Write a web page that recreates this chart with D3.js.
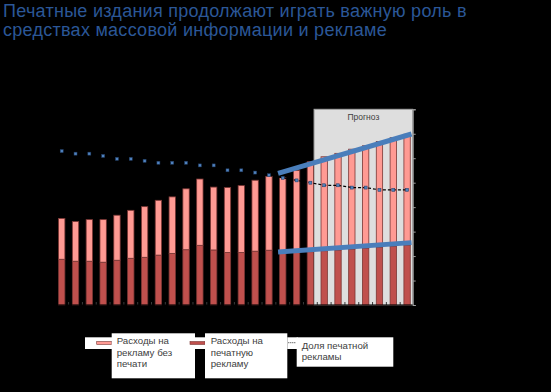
<!DOCTYPE html>
<html><head><meta charset="utf-8">
<script src="https://cdn.jsdelivr.net/npm/d3@7/dist/d3.min.js"></script>
<style>
html,body{margin:0;padding:0;background:#000;}
svg{display:block;font-family:"Liberation Sans",Arial,sans-serif;}
</style></head>
<body>
<svg id="chart" width="551" height="392"></svg>
<script>
// ---------- data ----------
const years = d3.range(1990, 2016).map(String);
const printSpend = [1.87,1.79,1.79,1.75,1.83,1.91,1.95,2.04,2.11,2.26,2.44,2.25,2.15,2.15,2.20,2.24,2.14,2.15,2.18,2.22,2.25,2.29,2.33,2.37,2.41,2.45];
const totalSpend = [3.54,3.41,3.49,3.49,3.67,3.87,4.02,4.28,4.42,4.75,5.15,4.82,4.80,4.88,5.10,5.26,5.20,5.50,5.86,6.06,6.20,6.37,6.51,6.68,6.84,6.98];
const nonPrintSpend = totalSpend.map((t,i)=>+(t-printSpend[i]).toFixed(2));
const printShare = [47.2,46.4,46.4,45.7,44.8,44.8,44.2,43.6,43.6,43.6,42.8,42.8,41.3,41.3,40.6,39.8,39.0,38.2,37.5,36.7,36.7,36.0,36.0,35.3,35.3,35.3];
const forecastStart = "2009";
const axisTicks = [0,1,2,3,4,5,6,7,8];
const trendTotal = [{pos:15.66, v:5.38},{pos:25.32, v:6.99}];
const trendPrint = [{pos:15.66, v:2.17},{pos:25.32, v:2.55}];
const titleLines = ["Печатные издания продолжают играть важную роль в","средствах массовой информации и рекламе"];
const legendItems = [
  {lines:["Расходы на","рекламу без","печати"], kind:"nonprint"},
  {lines:["Расходы на","печатную","рекламу"], kind:"print"},
  {lines:["Доля печатной","рекламы"], kind:"share"}
];
const forecastLabel = "Прогноз";

// ---------- layout ----------
const svg = d3.select("#chart");
const cLight = "#FF9A93", cDark = "#C0504D", cEdge = "#7a3634";
const x = d3.scaleBand().domain(years).range([54.8,414]).paddingInner(0.54).paddingOuter(0.27);
const y = d3.scaleLinear().domain([0,8]).range([305,109.3]);
const yShare = d3.scaleLinear().domain([0,60]).range([305,109.3]);
const xc = d3.scaleLinear().domain([0, years.length-1]).range([x(years[0])+x.bandwidth()/2, x(years[years.length-1])+x.bandwidth()/2]);
const axisX = 412.7;

// title
svg.append("g").selectAll("text").data(titleLines).join("text")
  .attr("x",3).attr("y",(d,i)=>16.5+i*19.2)
  .attr("fill","#2b5797").attr("font-size","18px").attr("letter-spacing","0.27px").text(d=>d);

// forecast area
const fIdx = years.indexOf(forecastStart);
const fx0 = x(years[fIdx-1]) + x.bandwidth() + 0.5;
svg.append("rect").attr("x",fx0).attr("y",y(8)).attr("width",axisX-fx0).attr("height",y(0)-y(8))
  .attr("fill","#dedede").attr("stroke","#a6a6a6").attr("stroke-width",1);
svg.append("text").attr("x",(fx0+axisX)/2).attr("y",y(8)+11).attr("text-anchor","middle")
  .attr("font-size","8.5px").attr("fill","#404040").text(forecastLabel);

// category ticks (between bars)
const step = x.step();
svg.append("g").selectAll("line").data(years.slice(0,-1)).join("line")
  .attr("x1",d=>x(d)+x.bandwidth()+(step-x.bandwidth())/2).attr("x2",d=>x(d)+x.bandwidth()+(step-x.bandwidth())/2)
  .attr("y1",y(0)).attr("y2",y(0)-3).attr("stroke","#3a3a3a").attr("stroke-width",1);

// bars
const g = svg.append("g");
g.selectAll("rect.p").data(years).join("rect").attr("class","p")
  .attr("x",d=>x(d)).attr("width",x.bandwidth())
  .attr("y",(d,i)=>y(printSpend[i])).attr("height",(d,i)=>y(0)-y(printSpend[i]))
  .attr("fill",cDark).attr("stroke",cEdge).attr("stroke-width",0.8);
g.selectAll("rect.n").data(years).join("rect").attr("class","n")
  .attr("x",d=>x(d)).attr("width",x.bandwidth())
  .attr("y",(d,i)=>y(printSpend[i]+nonPrintSpend[i])).attr("height",(d,i)=>y(printSpend[i])-y(printSpend[i]+nonPrintSpend[i]))
  .attr("fill",cLight).attr("stroke",cEdge).attr("stroke-width",0.8);

// right axis
const ax = svg.append("g").attr("transform",`translate(${axisX},0)`)
  .call(d3.axisRight(y).tickValues(axisTicks).tickSize(3).tickFormat(""));
ax.selectAll("line").attr("stroke","#a0a0a0");
ax.select(".domain").attr("stroke","#a0a0a0");
// baseline
svg.append("line").attr("x1",x.range()[0]).attr("x2",axisX).attr("y1",y(0)).attr("y2",y(0)).attr("stroke","#000");

// share line
const line = d3.line().x((d,i)=>xc(i)).y(d=>yShare(d));
svg.append("path").attr("d",line(printShare)).attr("fill","none").attr("stroke","#000")
  .attr("stroke-width",1.2).attr("stroke-dasharray","3,2");
svg.append("g").selectAll("rect").data(printShare).join("rect")
  .attr("x",(d,i)=>xc(i)-1.5).attr("y",d=>yShare(d)-1.5).attr("width",3).attr("height",3)
  .attr("fill","#4F81BD").attr("stroke","#1f3a60").attr("stroke-width",0.5);

// trend lines
const tl = d3.line().x(d=>xc(d.pos)).y(d=>y(d.v));
[trendTotal, trendPrint].forEach(t=>{
  svg.append("path").attr("d",tl(t)).attr("fill","none").attr("stroke","#4a7ebb").attr("stroke-width",5);
});

// legend
const lg = svg.append("g");
const boxes = [
  {sx:85, sw:26.7, tx:111.7, tw:83.3, ty:333.3, th:45, textX:116.7, base:344.2},
  {sx:195, sw:10, tx:205, tw:82.3, ty:333.3, th:45, textX:210.7, base:344.2},
  {sx:287.3, sw:9.4, tx:296.7, tw:96.6, ty:337.3, th:29.4, textX:301.7, base:348.5}
];
legendItems.forEach((it,i)=>{
  const b = boxes[i];
  lg.append("rect").attr("x",b.sx).attr("y",337.3).attr("width",b.sw+1).attr("height",11.7).attr("fill","#fff");
  if(it.kind==="share"){
    lg.append("line").attr("x1",b.sx+1).attr("x2",b.sx+b.sw-1).attr("y1",342.7).attr("y2",342.7)
      .attr("stroke","#333").attr("stroke-width",1).attr("stroke-dasharray","1,1");
  } else {
    lg.append("rect").attr("x",b.sx+b.sw-15).attr("y",341.5).attr("width",15).attr("height",3)
      .attr("fill",it.kind==="print"?cDark:cLight).attr("stroke",cEdge).attr("stroke-width",0.6);
  }
  lg.append("rect").attr("x",b.tx).attr("y",b.ty).attr("width",b.tw).attr("height",b.th).attr("fill","#fff");
  lg.append("g").selectAll("text").data(it.lines).join("text")
    .attr("x",b.textX).attr("y",(d,j)=>b.base+j*11.3)
    .attr("font-size","9.7px").attr("fill","#404040").text(d=>d);
});
</script>
</body></html>
